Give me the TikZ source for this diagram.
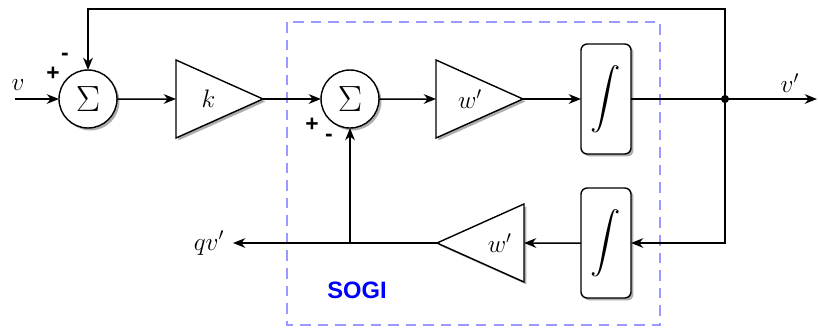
\documentclass[tikz,border=0pt]{standalone}
\usepackage{exscale}
\usepackage{fontspec}
\newfontfamily\signfont{Liberation Sans}
\usetikzlibrary{arrows.meta,positioning,shapes.geometric,shadows}
\definecolor{sogiline}{HTML}{9999FF}
\definecolor{sogitext}{HTML}{0000FF}
\tikzset{
  blockshadow/.style={drop shadow={shadow xshift=1.4pt, shadow yshift=-1.4pt, fill=black!40, opacity=0.8}},
  sumnode/.style={draw, circle, fill=white, line width=0.8pt, minimum size=1.16cm, inner sep=0pt, outer sep=0pt, blockshadow, font=\fontsize{22}{24}\selectfont},
  gain/.style={draw, isosceles triangle, isosceles triangle stretches, fill=white, line width=0.8pt, minimum width=1.56cm, minimum height=1.74cm, inner sep=0pt, outer sep=0pt, blockshadow, font=\fontsize{14}{16}\selectfont},
  integ/.style={draw, rectangle, rounded corners=3.5pt, fill=white, line width=0.8pt, minimum width=1cm, minimum height=2.2cm, inner sep=0pt, outer sep=0pt, blockshadow, font=\fontsize{19}{22}\selectfont},
  sig/.style={font=\fontsize{14}{16}\selectfont, inner sep=0pt},
  sign/.style={font=\signfont\bfseries\fontsize{13}{14}\selectfont, inner sep=0pt},
  wire/.style={line width=0.85pt, -{Stealth[length=7pt, width=5.5pt]}}
}

\begin{document}
\begin{tikzpicture}[x=0.02cm, y=-0.02cm]
    \useasboundingbox (0,0) rectangle (818,329);
    % SOGI frame
    \draw[sogiline, line width=1.3pt, dash pattern=on 6pt off 4pt] (287,22) rectangle (660,325);
    \node[font=\signfont\bfseries\fontsize{13.5}{15}\selectfont, text=sogitext] (sogi) at (357,290) {SOGI};

    \node[sumnode] (sum1) at (88,99) {$\Sigma$};
    \node[gain, anchor=lower side] (gk) at (176,99) {\hspace*{8pt}$k$};
    \node[sumnode] (sum2) at (350,99) {$\Sigma$};
    \node[gain, anchor=lower side] (gw1) at (436,99) {\hspace*{8pt}$w'$};
    \node[integ] (int1) at (606,99) {$\displaystyle\int$};
    \node[integ] (int2) at (606,243) {$\displaystyle\int$};
    \node[gain, shape border rotate=180, anchor=apex] (gw2) at (437,243) {$w'$};

    \coordinate (vin) at (15,99);
    \coordinate (branch) at (725,99);
    \coordinate (vout) at (817,99);
    \coordinate (fbtop) at (725,9);
    \coordinate (tap) at (350,243);
    \coordinate (qvout) at (233,243);

    \node[sig] (lv) at (18,85) {$v$};
    \node[sig] (lvout) at (790,83) {$v'$};
    \node[sig] (lqv) at (209,243) {$qv'$};
    \node[sign] (p1) at (53,74) {+};
    \node[sign] (m1) at (65,57) {-};
    \node[sign] (p2) at (312,125) {+};
    \node[sign] (m2) at (329,138) {-};

    \draw[wire] (vin) -- (sum1);
    \draw[wire] (sum1) -- (gk);
    \draw[wire] (gk.apex) -- (sum2);
    \draw[wire] (sum2) -- (gw1);
    \draw[wire] (gw1.apex) -- (int1);
    \draw[wire] (int1) -- (vout);
    \draw[wire] (branch) -- (fbtop) -| (sum1);
    \draw[wire] (branch) |- (int2);
    \draw[wire] (int2) -- (gw2);
    \draw[wire] (gw2.apex) -- (qvout);
    \draw[wire] (tap) -- (sum2);
    \fill (branch) circle (2.3pt);
\end{tikzpicture}
\end{document}
